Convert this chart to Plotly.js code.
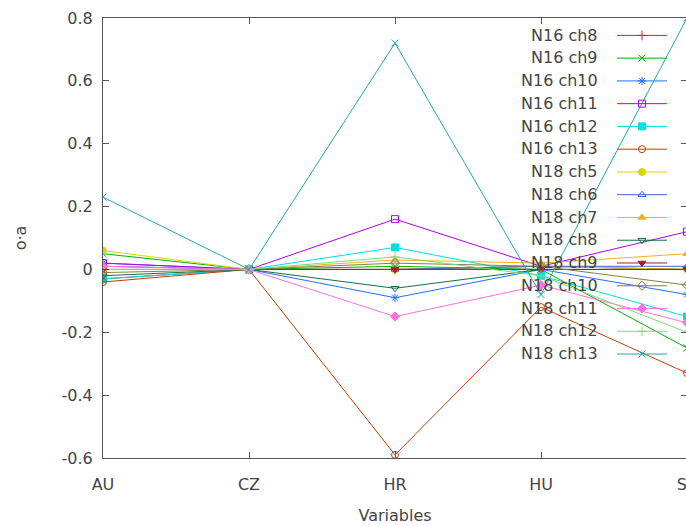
<!DOCTYPE html>
<html>
<head>
<meta charset="utf-8">
<script src="https://cdn.plot.ly/plotly-3.0.1.min.js"></script>
<style>
html,body{margin:0;padding:0;overflow:hidden;background:#fff;width:686px;height:526px;}
#chart{width:690px;height:526px;}
</style>
</head>
<body>
<div id="chart"></div>
<script>
// ---- data ----
const categories = ['AU', 'CZ', 'HR', 'HU', 'SK'];
const seriesNames = ['N16 ch8', 'N16 ch9', 'N16 ch10', 'N16 ch11', 'N16 ch12', 'N16 ch13',
  'N18 ch5', 'N18 ch6', 'N18 ch7', 'N18 ch8', 'N18 ch9', 'N18 ch10', 'N18 ch11', 'N18 ch12', 'N18 ch13'];
const n16ch8  = [-0.03, 0, 0.00, 0.01, 0.00];
const n16ch9  = [0.05, 0, 0.01, 0.00, -0.25];
const n16ch10 = [0.02, 0, -0.09, 0.00, -0.08];
const n16ch11 = [0.02, 0, 0.16, 0.01, 0.12];
const n16ch12 = [-0.03, 0, 0.07, -0.02, -0.15];
const n16ch13 = [-0.04, 0, -0.59, -0.12, -0.33];
const n18ch5  = [0.06, 0, 0.00, 0.01, 0.00];
const n18ch6  = [0.01, 0, 0.00, 0.01, 0.01];
const n18ch7  = [0.00, 0, 0.03, 0.02, 0.05];
const n18ch8  = [-0.02, 0, -0.06, 0.00, 0.00];
const n18ch9  = [0.00, 0, 0.00, 0.00, 0.00];
const n18ch10 = [-0.01, 0, 0.02, 0.01, -0.05];
const n18ch11 = [0.01, 0, -0.15, -0.05, -0.17];
const n18ch12 = [0.00, 0, 0.04, -0.02, -0.20];
const n18ch13 = [0.23, 0, 0.72, -0.08, 0.80];
const seriesValues = [n16ch8, n16ch9, n16ch10, n16ch11, n16ch12, n16ch13,
  n18ch5, n18ch6, n18ch7, n18ch8, n18ch9, n18ch10, n18ch11, n18ch12, n18ch13];
const yTickVals = [-0.6, -0.4, -0.2, 0, 0.2, 0.4, 0.6, 0.8];
const yTickText = ['-0.6', '-0.4', '-0.2', '0', '0.2', '0.4', '0.6', '0.8'];

// ---- styles ----
const colors = ['#e02020', '#00b000', '#2070ff', '#b000f0', '#00e0e0', '#c04000',
  '#d8d800', '#4060d0', '#f0b020', '#107040', '#a02020', '#808040', '#ff70e0', '#80d880', '#20a8a8'];
const symbols = ['cross-thin-open', 'x-thin-open', 'asterisk-open', 'square-open', 'square', 'circle-open',
  'circle', 'triangle-up-open', 'triangle-up', 'triangle-down-open', 'triangle-down', 'diamond-open',
  'diamond', 'cross-thin-open', 'x-thin-open'];

const font = {family: 'DejaVu Sans', size: 16, color: '#444444'};

const traces = seriesValues.map((vals, i) => ({
  type: 'scatter',
  mode: 'lines+markers',
  x: categories,
  y: vals,
  name: ' ',
  cliponaxis: true,
  line: {color: colors[i], width: 1},
  marker: {symbol: symbols[i], size: 7, color: colors[i], line: {color: colors[i], width: 1}}
}));

// legend labels (right aligned text, gnuplot style)
const plotTop = 18, plotBottom = 458, plotLeft = 103, plotRight = 687;
const rowStart = 35, rowStep = 22.75;
const annotations = seriesNames.map((nm, i) => ({
  text: nm,
  xref: 'paper', yref: 'paper',
  x: (600 - plotLeft) / (plotRight - plotLeft),
  y: (plotBottom - (rowStart + i * rowStep)) / (plotBottom - plotTop),
  xanchor: 'right', yanchor: 'middle',
  showarrow: false,
  font: font
}));

const layout = {
  width: 690, height: 526,
  margin: {l: plotLeft, r: 690 - plotRight, t: plotTop, b: 526 - plotBottom},
  paper_bgcolor: '#fff', plot_bgcolor: '#fff',
  font: font,
  showlegend: true,
  legend: {
    x: (612 - plotLeft) / (plotRight - plotLeft), xanchor: 'left',
    y: (plotBottom - 19) / (plotBottom - plotTop), yanchor: 'top',
    bgcolor: 'rgba(0,0,0,0)', borderwidth: 0,
    font: {family: 'DejaVu Sans', size: 15.2},
    itemwidth: 50,
    tracegroupgap: 0
  },
  xaxis: {
    type: 'category',
    range: [0, 4],
    showgrid: false, zeroline: false,
    showline: true, linecolor: '#555', linewidth: 1, mirror: 'ticks',
    ticks: 'inside', ticklen: 6, tickcolor: '#555',
    ticklabelstandoff: 12,
    tickfont: font,
    title: {text: 'Variables', font: font, standoff: 16}
  },
  yaxis: {
    range: [-0.6, 0.8],
    tickvals: yTickVals, ticktext: yTickText,
    showgrid: false, zeroline: false,
    showline: true, linecolor: '#555', linewidth: 1, mirror: 'ticks',
    ticks: 'inside', ticklen: 6, tickcolor: '#555',
    ticklabelstandoff: 6,
    tickfont: font,
    title: {text: 'o·a', font: font, standoff: 30}
  },
  annotations: annotations
};

Plotly.newPlot('chart', traces, layout, {displayModeBar: false, staticPlot: true});
</script>
</body>
</html>
